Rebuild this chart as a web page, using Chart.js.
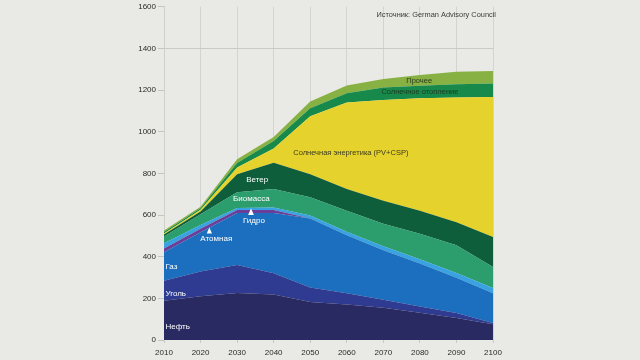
<!DOCTYPE html>
<html>
<head>
<meta charset="utf-8">
<script src="https://cdn.jsdelivr.net/npm/chart.js@4/dist/chart.umd.min.js"></script>
<style>
  html, body { margin: 0; padding: 0; background: #e9e9e5; }
  #wrap { width: 640px; height: 360px; position: relative; }
</style>
</head>
<body>
<div id="wrap"><canvas id="c" width="640" height="360"></canvas></div>
<script>
// ---- data (EJ/a) ----
const years      = [2010, 2020, 2030, 2040, 2050, 2060, 2070, 2080, 2090, 2100];
const oil        = [188, 210, 226, 218, 182, 170, 155, 131, 106, 76];
const coal       = [97, 119, 134, 103, 70, 55, 38, 30, 24, 6];
const gas        = [136, 189, 250, 289, 332, 278, 238, 206, 169, 143];
const nuclear    = [18, 16, 14, 14, 0, 0, 0, 0, 0, 0];
const hydro      = [26, 18, 10, 12, 14, 17, 19, 21, 23, 25];
const biomass    = [32, 52, 76, 89, 87, 101, 108, 122, 133, 100];
const wind       = [10, 13, 86, 126, 111, 104, 111, 111, 111, 145];
const solarPV    = [5, 8, 32, 69, 278, 415, 484, 540, 598, 672];
const solarHeat  = [7, 8, 22, 35, 39, 45, 59, 60, 64, 65];
const other      = [7, 7, 18, 20, 32, 37, 41, 51, 60, 60];
const seriesNames = ['Нефть', 'Уголь', 'Газ', 'Атомная', 'Гидро', 'Биомасса', 'Ветер',
                     'Солнечная энергетика (PV+CSP)', 'Солнечное отопление', 'Прочее'];
const sourceText = 'Источник: German Advisory Council';

// ---- styles ----
const colors = ['#2a2a62', '#2e3b90', '#1c6fbf', '#6b3e99', '#38a3e0', '#2c9d6c',
                '#0e5d3b', '#e6d22c', '#17894a', '#88b144'];
const seriesValues = [oil, coal, gas, nuclear, hydro, biomass, wind, solarPV, solarHeat, other];

const datasets = seriesValues.map((vals, i) => ({
  label: seriesNames[i],
  data: vals.map((v, j) => ({ x: years[j], y: v })),
  backgroundColor: colors[i],
  borderColor: colors[i],
  borderWidth: 0,
  pointRadius: 0,
  tension: 0,
  fill: i === 0 ? 'origin' : '-1'
}));

// in-chart labels placed in data coordinates
const areaLabels = [
  { text: 'Нефть', x: 2010.4, y: 64, align: 'left', color: '#ffffff', size: 8 },
  { text: 'Уголь', x: 2010.4, y: 221, align: 'left', color: '#ffffff', size: 8 },
  { text: 'Газ', x: 2010.4, y: 350, align: 'left', color: '#ffffff', size: 8 },
  { text: 'Атомная', x: 2024.3, y: 488, align: 'center', color: '#ffffff', size: 8 },
  { text: 'Гидро', x: 2034.6, y: 574, align: 'center', color: '#ffffff', size: 8 },
  { text: 'Биомасса', x: 2033.9, y: 679, align: 'center', color: '#ffffff', size: 8 },
  { text: 'Ветер', x: 2035.5, y: 769, align: 'center', color: '#ffffff', size: 8 },
  { text: 'Солнечная энергетика (PV+CSP)', x: 2061.1, y: 899, align: 'center', color: '#3b3a1e', size: 7.5 },
  { text: 'Солнечное отопление', x: 2080.0, y: 1190, align: 'center', color: '#1d3b22', size: 7.5 },
  { text: 'Прочее', x: 2079.8, y: 1244, align: 'center', color: '#2a3a1c', size: 7.5 }
];
const markers = [
  { x: 2022.4, yTip: 540, yBase: 512 },
  { x: 2033.8, yTip: 631, yBase: 600 }
];

const labelPlugin = {
  id: 'labels',
  afterDatasetsDraw(chart) {
    const { ctx, scales: { x, y }, chartArea } = chart;
    ctx.save();
    ctx.textBaseline = 'middle';
    areaLabels.forEach(l => {
      ctx.font = l.size + 'px "Liberation Sans", Arial, sans-serif';
      ctx.fillStyle = l.color;
      ctx.textAlign = l.align;
      ctx.fillText(l.text, x.getPixelForValue(l.x), y.getPixelForValue(l.y));
    });
    ctx.fillStyle = '#ffffff';
    markers.forEach(m => {
      const px = x.getPixelForValue(m.x);
      const t = y.getPixelForValue(m.yTip);
      const b = y.getPixelForValue(m.yBase);
      const hw = (b - t) * 0.45;
      ctx.beginPath();
      ctx.moveTo(px, t);
      ctx.lineTo(px + hw, b);
      ctx.lineTo(px - hw, b);
      ctx.closePath();
      ctx.fill();
    });
    ctx.font = '7.4px "Liberation Sans", Arial, sans-serif';
    ctx.fillStyle = '#3a3a3a';
    ctx.textAlign = 'right';
    ctx.fillText(sourceText, chartArea.right + 3, chartArea.top + 8);
    ctx.restore();
  }
};

new Chart(document.getElementById('c'), {
  type: 'line',
  data: { datasets },
  plugins: [labelPlugin],
  options: {
    responsive: false,
    animation: false,
    layout: { padding: { top: 4, right: 147, bottom: 0, left: 0 } },
    plugins: { legend: { display: false }, tooltip: { enabled: false } },
    elements: { line: { borderWidth: 0 } },
    scales: {
      x: {
        type: 'linear',
        min: 2010, max: 2100,
        ticks: { stepSize: 10, color: '#2a2a2a', padding: 5,
                 font: { size: 8, family: '"Liberation Sans", Arial, sans-serif' },
                 callback: v => String(v) },
        grid: { color: '#d3d3cf', lineWidth: 1, tickLength: 3, tickColor: '#c8c8c4' },
        border: { display: false },
        afterFit: s => { s.height = 20; }
      },
      y: {
        stacked: true,
        min: 0, max: 1600,
        ticks: { stepSize: 200, color: '#2a2a2a', padding: 2,
                 font: { size: 8, family: '"Liberation Sans", Arial, sans-serif' },
                 callback: v => String(v) },
        grid: { color: ctx => (ctx.tick && ctx.tick.value === 1400) ? '#c9c9c5' : 'rgba(0,0,0,0)',
                tickColor: '#c4c4c0', tickLength: 6 },
        border: { display: true, color: '#cfcfcb' },
        afterFit: s => { s.width = 164; }
      }
    }
  }
});
</script>
</body>
</html>
